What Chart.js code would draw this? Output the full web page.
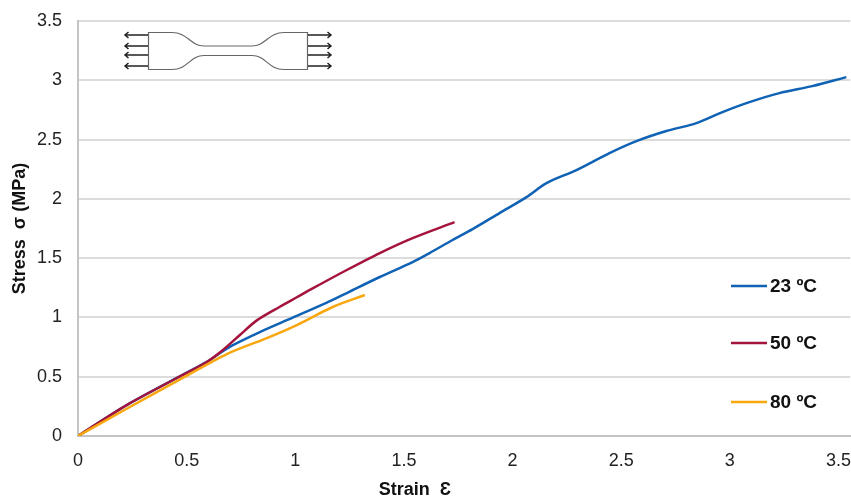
<!DOCTYPE html>
<html>
<head>
<meta charset="utf-8">
<style>
    html, body { margin: 0; padding: 0; background: #ffffff; }
    #wrap { position: relative; width: 851px; height: 501px; }
</style>
<script src="https://cdn.jsdelivr.net/npm/chart.js@4"></script>
</head>
<body>
<div id="wrap"><canvas id="stressChart" width="851" height="501"></canvas></div>
<script>
const seriesLabels = ['23 ºC', '50 ºC', '80 ºC'];
const seriesColors = ['#0f62b4', '#a5143c', '#f9a70f'];

const strain23 = [0, 0.224, 0.455, 0.593, 0.667, 0.713, 0.837, 0.988, 1.145, 1.237, 1.389, 1.54, 1.618, 1.724, 1.816, 1.94, 2.064, 2.156, 2.294, 2.446, 2.57, 2.708, 2.846, 2.966, 3.09, 3.228, 3.379, 3.536];
const stress23 = [0, 0.26, 0.49, 0.625, 0.715, 0.767, 0.877, 0.998, 1.125, 1.206, 1.341, 1.467, 1.543, 1.653, 1.745, 1.88, 2.015, 2.133, 2.243, 2.386, 2.487, 2.572, 2.639, 2.732, 2.816, 2.892, 2.951, 3.027];

const strain50 = [0, 0.224, 0.455, 0.593, 0.667, 0.745, 0.823, 0.929, 1.007, 1.08, 1.237, 1.389, 1.54, 1.733];
const stress50 = [0, 0.261, 0.489, 0.624, 0.725, 0.852, 0.975, 1.09, 1.17, 1.245, 1.40, 1.543, 1.669, 1.804];

const strain80 = [0, 0.224, 0.455, 0.685, 0.869, 1.007, 1.172, 1.32];
const stress80 = [0, 0.23, 0.462, 0.691, 0.826, 0.936, 1.088, 1.189];

const toPoints = (xs, ys) => xs.map((x, i) => ({ x: x, y: ys[i] }));

// legend sits over the plot area and the x title is off centre, so both are drawn by hand
const sideLegend = {
    id: 'sideLegend',
    afterDatasetsDraw(chart) {
        const ctx = chart.ctx;
        const rows = [286, 343, 402];
        ctx.save();
        ctx.font = 'bold 19px "Liberation Sans"';
        ctx.textBaseline = 'middle';
        seriesLabels.forEach((label, i) => {
            ctx.strokeStyle = seriesColors[i];
            ctx.lineWidth = 2.5;
            ctx.beginPath();
            ctx.moveTo(731, rows[i]);
            ctx.lineTo(767, rows[i]);
            ctx.stroke();
            ctx.fillStyle = '#111111';
            ctx.fillText(label, 770, rows[i] + 1);
        });
        ctx.font = 'bold 18px "Liberation Sans"';
        ctx.textAlign = 'center';
        ctx.fillText('Strain  Ɛ', 415, 490);
        ctx.restore();
    }
};

// little dogbone specimen sketch, top left
const specimen = {
    id: 'specimen',
    afterDatasetsDraw(chart) {
        const ctx = chart.ctx;
        ctx.save();
        ctx.strokeStyle = '#666666';
        ctx.lineWidth = 1.2;
        ctx.beginPath();
        ctx.moveTo(148.5, 32.5);
        ctx.lineTo(172, 32.5);
        ctx.bezierCurveTo(188, 32.5, 190, 46, 204, 46);
        ctx.lineTo(252, 46);
        ctx.bezierCurveTo(266, 46, 268, 32.5, 284, 32.5);
        ctx.lineTo(307.5, 32.5);
        ctx.lineTo(307.5, 69.5);
        ctx.lineTo(284, 69.5);
        ctx.bezierCurveTo(268, 69.5, 266, 55.5, 252, 55.5);
        ctx.lineTo(204, 55.5);
        ctx.bezierCurveTo(190, 55.5, 188, 69.5, 172, 69.5);
        ctx.lineTo(148.5, 69.5);
        ctx.closePath();
        ctx.stroke();
        ctx.strokeStyle = '#222222';
        ctx.lineWidth = 1.5;
        [35, 46, 55, 66].forEach(y => {
            ctx.beginPath();
            ctx.moveTo(148, y); ctx.lineTo(125, y);
            ctx.moveTo(128.5, y - 3); ctx.lineTo(125, y); ctx.lineTo(128.5, y + 3);
            ctx.moveTo(308, y); ctx.lineTo(331, y);
            ctx.moveTo(327.5, y - 3); ctx.lineTo(331, y); ctx.lineTo(327.5, y + 3);
            ctx.stroke();
        });
        ctx.restore();
    }
};

new Chart(document.getElementById('stressChart'), {
    type: 'scatter',
    data: {
        datasets: [
            { label: seriesLabels[0], data: toPoints(strain23, stress23), borderColor: seriesColors[0], order: 3 },
            { label: seriesLabels[1], data: toPoints(strain50, stress50), borderColor: seriesColors[1], order: 2 },
            { label: seriesLabels[2], data: toPoints(strain80, stress80), borderColor: seriesColors[2], order: 1 }
        ].map(d => Object.assign(d, {
            showLine: true,
            borderWidth: 2.5,
            pointRadius: 0,
            tension: 0.3,
            fill: false
        }))
    },
    options: {
        responsive: false,
        animation: false,
        layout: { padding: { top: 21, right: 0, bottom: 0, left: 0 } },
        plugins: { legend: { display: false }, tooltip: { enabled: false } },
        scales: {
            x: {
                type: 'linear',
                min: 0,
                max: 3.554,
                grid: { display: false, tickLength: 14 },
                border: { color: '#c4c4c4', width: 2 },
                ticks: {
                    stepSize: 0.5,
                    includeBounds: false,
                    autoSkip: false,
                    color: '#222222',
                    padding: 0,
                    maxRotation: 0,
                    font: { family: '"Liberation Sans"', size: 18 },
                    callback: v => String(v)
                },
                afterFit(axis) { axis.height = 65; }
            },
            y: {
                min: 0,
                max: 3.5,
                // tick marks are invisible, the length only pushes the labels left
                grid: { color: '#dcdcdc', lineWidth: 2, tickLength: 14, tickColor: 'rgba(0,0,0,0)' },
                border: { color: '#c4c4c4', width: 2 },
                ticks: {
                    stepSize: 0.5,
                    color: '#222222',
                    padding: 2,
                    font: { family: '"Liberation Sans"', size: 18 },
                    callback: v => String(v)
                },
                title: {
                    display: true,
                    text: 'Stress  σ (MPa)',
                    color: '#111111',
                    padding: { top: 9, bottom: 0 },
                    font: { family: '"Liberation Sans"', size: 18, weight: 'bold' }
                },
                afterFit(axis) { axis.width = 78; }
            }
        }
    },
    plugins: [sideLegend, specimen]
});
</script>
</body>
</html>
